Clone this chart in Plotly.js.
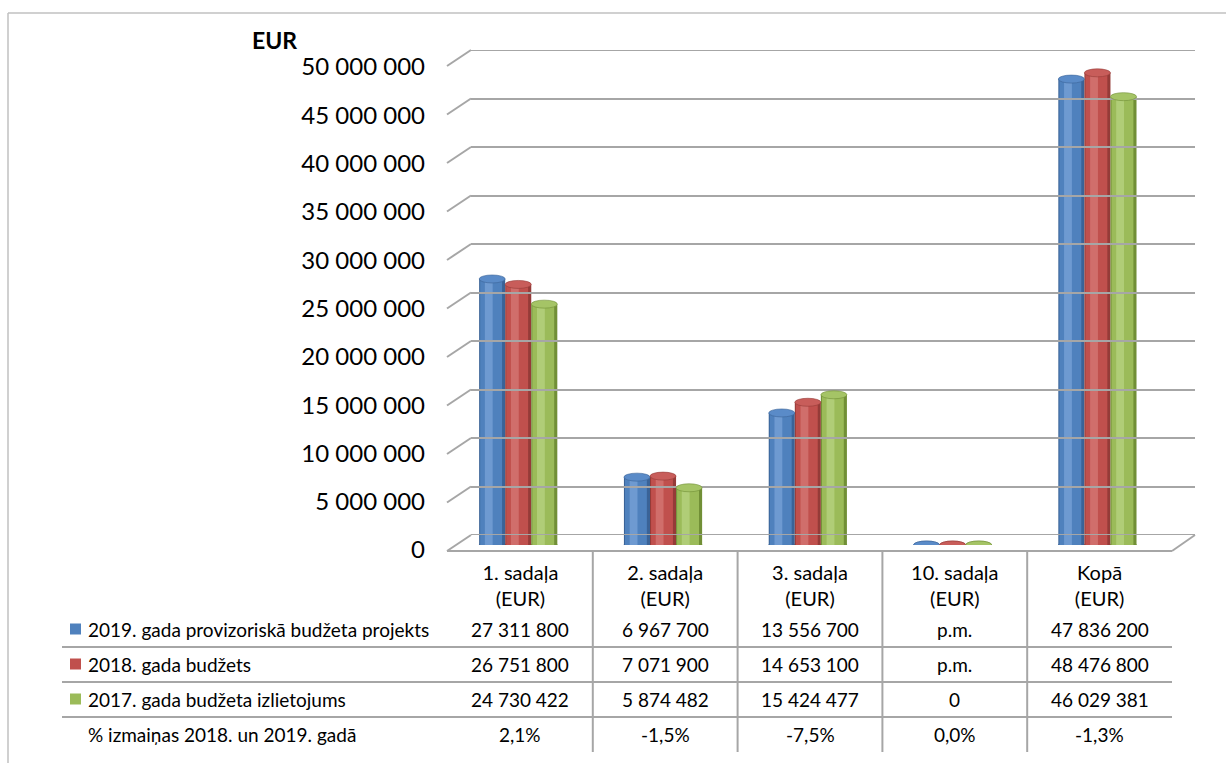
<!DOCTYPE html>
<html>
<head>
<meta charset="utf-8">
<script src="https://cdn.plot.ly/plotly-3.0.1.min.js"></script>
<style>html,body{margin:0;padding:0;background:#fff;}#chart{width:1226px;height:763px;}</style>
</head>
<body>
<div id="chart"></div>
<script>
// ---------- data ----------
const categories = ['1. sadaļa', '2. sadaļa', '3. sadaļa', '10. sadaļa', 'Kopā'];
const categoryUnit = '(EUR)';
const seriesNames = [
  '2019. gada provizoriskā budžeta projekts',
  '2018. gada budžets',
  '2017. gada budžeta izlietojums'
];
const values2019 = [27311800, 6967700, 13556700, null, 47836200];
const values2018 = [26751800, 7071900, 14653100, null, 48476800];
const values2017 = [24730422, 5874482, 15424477, 0, 46029381];
const pctLabel = '% izmaiņas 2018. un 2019. gadā';
const pctChange = [2.1, -1.5, -7.5, 0.0, -1.3];
const yTickValues = [0, 5000000, 10000000, 15000000, 20000000, 25000000, 30000000, 35000000, 40000000, 45000000, 50000000];
const yTitle = 'EUR';

// ---------- styling ----------
const W = 1226, H = 763;
const FONT = 'Lato, "Open Sans", sans-serif';
const palettes = [
  {dark:'#3A6397', main:'#4F81BD', light:'#6E9AD1', cap:'#5A8BC8'},
  {dark:'#953B38', main:'#C0504D', light:'#D06E6B', cap:'#C85D5A'},
  {dark:'#718F36', main:'#9BBB59', light:'#B0CD77', cap:'#A5C466'}
];
const allSeries = [values2019, values2018, values2017];
const px = x => x / W;
const py = y => 1 - y / H;
const yMax = 50000000;

// axis geometry (pixels)
const barBase = 545, barTop = 58;        // bar plane
const frontBase = 551, backBase = 535;   // floor front / back
const span = 485;                          // 0 -> 50M in wall planes
const xLeft = 448, xRight = 1172, depthDx = 24;

function fmtNum(v) {
  if (v === null) return 'p.m.';
  return String(v).replace(/\B(?=(\d{3})+(?!\d))/g, ' ');
}
function fmtPct(v) { return v.toFixed(1).replace('.', ',') + '%'; }

const xIdx = categories.map((c, i) => i);
const barW = 0.18;
const groupStart = -0.285;

const traces = [];
allSeries.forEach((vals, s) => {
  const p = palettes[s];
  const yv = vals.map(v => v === null ? 0 : v);
  const off = groupStart + s * barW;
  const layers = [
    {w: barW, o: off, c: p.dark},
    {w: barW * 0.84, o: off + barW * 0.04, c: p.main},
    {w: barW * 0.30, o: off + barW * 0.22, c: p.light}
  ];
  layers.forEach(l => {
    traces.push({
      type: 'bar', x: xIdx, y: yv, width: l.w, offset: l.o,
      marker: {color: l.c, line: {width: 0}},
      name: seriesNames[s], showlegend: false, hoverinfo: 'skip',
      xaxis: 'x', yaxis: 'y'
    });
  });
});
// dummy traces to create wall + label subplots
traces.push({type:'scatter', x:[], y:[], xaxis:'x2', yaxis:'y2', showlegend:false, hoverinfo:'skip'});
traces.push({type:'scatter', x:[], y:[], xaxis:'x', yaxis:'y3', showlegend:false, hoverinfo:'skip'});

const shapes = [];
const annotations = [];
const gridColor = '#A6A6A6';

// outer frame (top + left)
shapes.push({type:'line', xref:'paper', yref:'paper', x0:px(8), y0:py(13), x1:px(W), y1:py(13), line:{color:'#C0C0C0', width:1.5}});
shapes.push({type:'line', xref:'paper', yref:'paper', x0:px(8), y0:py(13), x1:px(8), y1:py(H), line:{color:'#C0C0C0', width:1.5}});

// side-wall diagonals for each gridline
yTickValues.forEach(v => {
  const f = frontBase - v / yMax * span;
  const b = backBase - v / yMax * span;
  shapes.push({type:'line', xref:'paper', yref:'paper', x0:px(xLeft - 1), y0:py(f), x1:px(xLeft - 1 + depthDx), y1:py(b), line:{color:gridColor, width:2}});
});
// floor front edge + right diagonal
shapes.push({type:'line', xref:'paper', yref:'paper', x0:px(xLeft - 1), y0:py(frontBase), x1:px(xRight), y1:py(frontBase), line:{color:gridColor, width:2}});
shapes.push({type:'line', xref:'paper', yref:'paper', x0:px(xRight), y0:py(frontBase), x1:px(xRight + 23), y1:py(backBase), line:{color:gridColor, width:2}});
// back wall top + floor back edge (range edges)
[0, yMax].forEach(v => {
  shapes.push({type:'line', xref:'x2', yref:'y2', x0:0, x1:1, y0:v, y1:v, layer:'below', line:{color:gridColor, width:2}});
});

// cylinder caps
const capH = 8 * yMax / (barBase - barTop);
allSeries.forEach((vals, s) => {
  const p = palettes[s];
  const off = groupStart + s * barW;
  vals.forEach((v, i) => {
    const yv = v === null ? 0 : v;
    shapes.push({type:'circle', xref:'x', yref:'y', layer:'between',
      x0:i + off, x1:i + off + barW, y0:-capH / 2, y1:capH / 2,
      fillcolor:p.main, line:{color:p.dark, width:0.5}});
    shapes.push({type:'circle', xref:'x', yref:'y',
      x0:i + off, x1:i + off + barW, y0:yv - capH / 2, y1:yv + capH / 2,
      fillcolor:p.cap, line:{color:p.dark, width:0.6}});
  });
});

// data table
const rowLines = [647, 682, 717];
const rowCenters = [629, 664, 699, 734];
const tableBottom = 752;
for (let i = 0; i < categories.length - 1; i++) {
  shapes.push({type:'line', xref:'x', yref:'paper', x0:i + 0.5, x1:i + 0.5, y0:py(frontBase), y1:py(tableBottom), line:{color:gridColor, width:2}});
}
rowLines.forEach(y => {
  shapes.push({type:'line', xref:'paper', yref:'paper', x0:px(62), x1:px(xRight), y0:py(y), y1:py(y), line:{color:gridColor, width:2}});
});
const tableFont = {family: FONT, size: 19, color: '#000'};
allSeries.forEach((vals, s) => {
  const yc = rowCenters[s];
  shapes.push({type:'rect', xref:'paper', yref:'paper', x0:px(70), x1:px(81), y0:py(yc - 5.5), y1:py(yc + 5.5), fillcolor:palettes[s].main, line:{width:0}});
  annotations.push({xref:'paper', yref:'paper', x:px(86), y:py(yc), xanchor:'left', yanchor:'middle', text:seriesNames[s], showarrow:false, font:tableFont});
  vals.forEach((v, i) => {
    annotations.push({xref:'x', yref:'paper', x:i, y:py(yc), xanchor:'center', yanchor:'middle', text:fmtNum(v), showarrow:false, font:tableFont});
  });
});
annotations.push({xref:'paper', yref:'paper', x:px(86), y:py(rowCenters[3]), xanchor:'left', yanchor:'middle', text:pctLabel, showarrow:false, font:tableFont});
pctChange.forEach((v, i) => {
  annotations.push({xref:'x', yref:'paper', x:i, y:py(rowCenters[3]), xanchor:'center', yanchor:'middle', text:fmtPct(v), showarrow:false, font:tableFont});
});
// y title
annotations.push({xref:'paper', yref:'paper', x:px(274), y:py(40), xanchor:'center', yanchor:'middle', text:'<b>' + yTitle + '</b>', showarrow:false, font:{family:FONT, size:23, color:'#000'}});

const layout = {
  width: W, height: H,
  margin: {l:0, r:0, t:0, b:0},
  paper_bgcolor: '#fff', plot_bgcolor: 'rgba(0,0,0,0)',
  barmode: 'overlay',
  showlegend: false,
  font: {family: FONT, color: '#000'},
  xaxis: {
    domain: [px(xLeft), px(xRight)], range: [-0.5, 4.5], anchor: 'y',
    tickvals: xIdx, ticktext: categories.map(c => c + '<br>' + categoryUnit),
    tickfont: {family: FONT, size: 20, color: '#000'},
    showgrid: false, zeroline: false, showline: false, ticks: '',
    ticklabelstandoff: 14, fixedrange: true
  },
  yaxis: {
    domain: [py(barBase), py(barTop)], range: [0, yMax], anchor: 'x',
    showgrid: false, zeroline: false, showline: false, showticklabels: false, ticks: '', fixedrange: true
  },
  xaxis2: {
    domain: [px(xLeft - 1 + depthDx), px(xRight + 23)], range: [0, 1], anchor: 'y2',
    showgrid: false, zeroline: false, showline: false, showticklabels: false, ticks: '', fixedrange: true
  },
  yaxis2: {
    domain: [py(backBase), py(backBase - span)], range: [0, yMax], anchor: 'x2',
    tickvals: yTickValues, showgrid: true, gridcolor: gridColor, gridwidth: 2,
    zeroline: false, showline: false, showticklabels: false, ticks: '', fixedrange: true
  },
  yaxis3: {
    domain: [py(550), py(67)], range: [0, yMax], anchor: 'x',
    tickvals: yTickValues, ticktext: yTickValues.map(fmtNum),
    tickfont: {family: FONT, size: 24, color: '#000'},
    showgrid: false, zeroline: false, showline: false, ticks: '',
    ticklabelstandoff: 22, fixedrange: true
  },
  shapes: shapes,
  annotations: annotations
};

Plotly.newPlot('chart', traces, layout, {displayModeBar: false, staticPlot: true});
</script>
</body>
</html>
